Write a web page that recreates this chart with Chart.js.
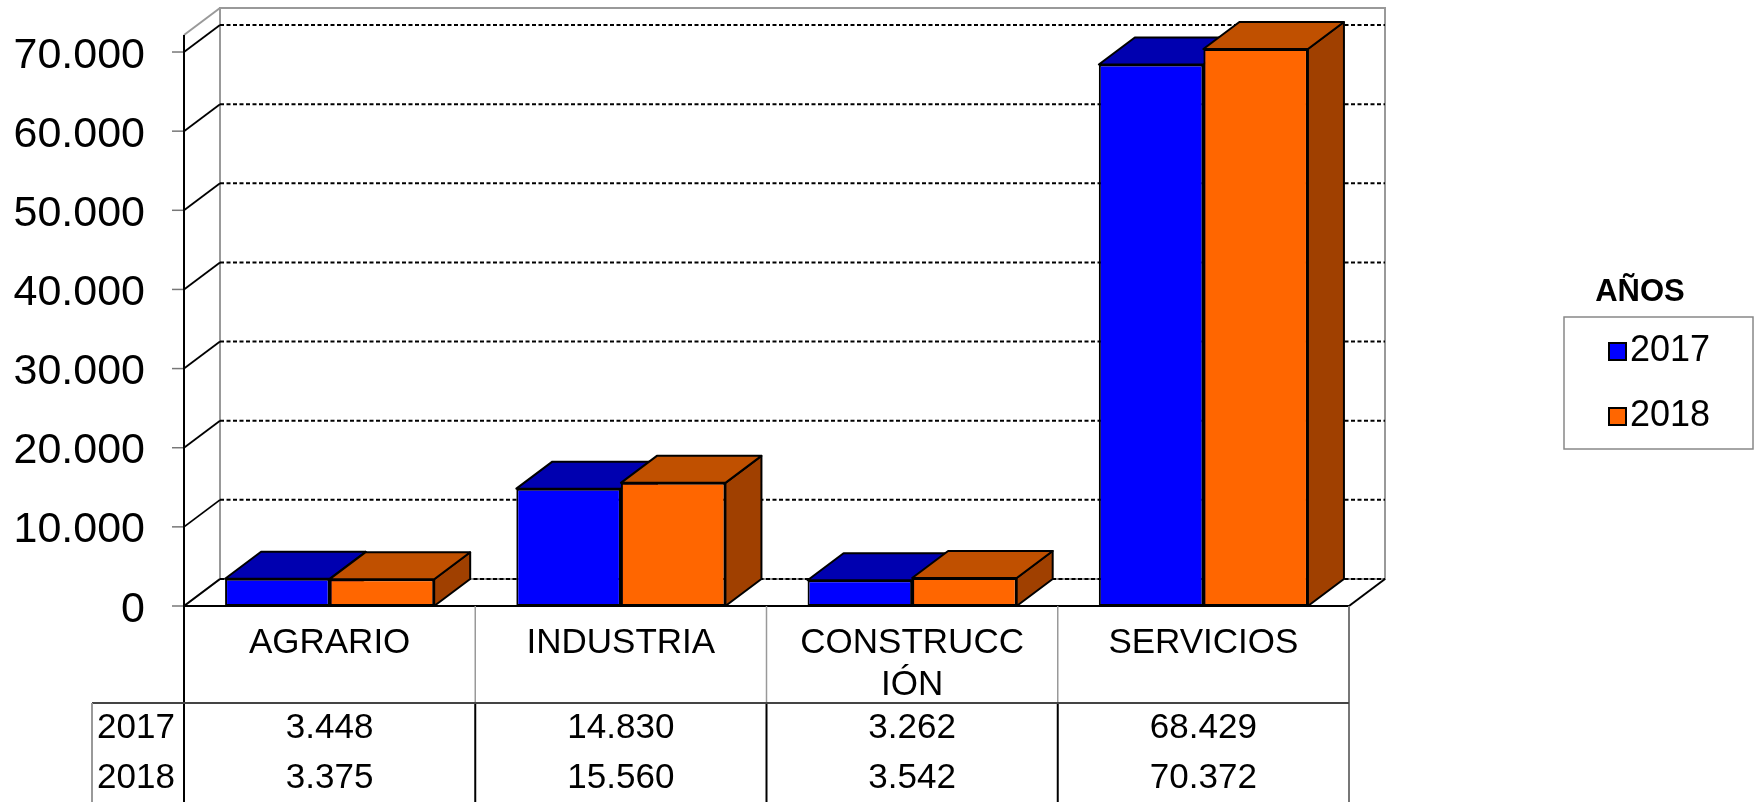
<!DOCTYPE html>
<html>
<head>
<meta charset="utf-8">
<script src="https://cdn.jsdelivr.net/npm/chart.js@4.4.0/dist/chart.umd.min.js"></script>
<style>
  html, body { margin: 0; padding: 0; background: #fff; }
  #wrap { width: 1755px; height: 802px; }
</style>
</head>
<body>
<div id="wrap"><canvas id="grafico" width="1755" height="802"></canvas></div>
<script>
// Datos del gráfico
const categorias = ['AGRARIO', 'INDUSTRIA', ['CONSTRUCC', 'IÓN'], 'SERVICIOS'];
const anios = ['2017', '2018'];
const valores2017 = [3448, 14830, 3262, 68429];
const valores2018 = [3375, 15560, 3542, 70372];
const ticksY = [0, 10000, 20000, 30000, 40000, 50000, 60000, 70000];
const tituloLeyenda = 'AÑOS';

const FUENTE = '"Liberation Sans", Arial, sans-serif';
const DX = 36, DY = -27; // profundidad del efecto 3D
const caras = [
    { frente: '#0000FF', arriba: '#0000B0', lado: '#000090' },
    { frente: '#FF6600', arriba: '#C05000', lado: '#A04000' }
];

// 3448 -> "3.448"
function formato(n) {
    return String(n).replace(/\B(?=(\d{3})+(?!\d))/g, '.');
}

function linea(ctx, x1, y1, x2, y2, color, ancho, dash) {
    ctx.save();
    ctx.strokeStyle = color;
    ctx.lineWidth = ancho;
    ctx.setLineDash(dash || []);
    ctx.beginPath();
    ctx.moveTo(x1, y1);
    ctx.lineTo(x2, y2);
    ctx.stroke();
    ctx.restore();
}

function poligono(ctx, pts, relleno) {
    ctx.beginPath();
    ctx.moveTo(pts[0][0], pts[0][1]);
    for (let i = 1; i < pts.length; i++) ctx.lineTo(pts[i][0], pts[i][1]);
    ctx.closePath();
    ctx.fillStyle = relleno;
    ctx.fill();
    ctx.strokeStyle = '#000';
    ctx.lineWidth = 2;
    ctx.lineJoin = 'round';
    ctx.stroke();
}

// Paredes, rejilla y caras superiores/laterales de las barras
const marco3d = {
    id: 'marco3d',
    beforeDatasetsDraw(chart) {
        const ctx = chart.ctx;
        const { left: L, right: R, top: T, bottom: B } = chart.chartArea;
        const y = chart.scales.y;

        // pared del fondo
        ctx.save();
        ctx.strokeStyle = '#999';
        ctx.lineWidth = 2;
        ctx.strokeRect(L + DX, T + DY, R - L, B - T);
        linea(ctx, L, T, L + DX, T + DY, '#999', 2);
        linea(ctx, L, B, L + DX, B + DY, '#777', 2);

        // rejilla
        ticksY.forEach(v => {
            const py = y.getPixelForValue(v);
            linea(ctx, L, py, L + DX, py + DY, '#000', 1.8);
            linea(ctx, L + DX, py + DY, R + DX, py + DY, '#000', 2, [4, 2.5]);
            linea(ctx, L - 12, py, L, py, '#777', 1.5);
        });

        // suelo
        linea(ctx, L, B, R, B, '#000', 2);
        linea(ctx, R, B, R + DX, B + DY, '#000', 2);
        linea(ctx, L, T, L, B, '#000', 2);

        // etiquetas eje Y
        ctx.fillStyle = '#000';
        ctx.font = '43px ' + FUENTE;
        ctx.textAlign = 'right';
        ctx.textBaseline = 'alphabetic';
        ticksY.forEach(v => {
            const py = y.getPixelForValue(v);
            ctx.fillText(formato(v), 145, py + 15.5);
        });

        // caras de las barras
        chart.data.datasets.forEach((ds, i) => {
            const meta = chart.getDatasetMeta(i);
            meta.data.forEach(bar => {
                const p = bar.getProps(['x', 'y', 'base', 'width'], true);
                const izq = p.x - p.width / 2, der = p.x + p.width / 2;
                poligono(ctx, [[der, p.y], [der + DX, p.y + DY], [der + DX, p.base + DY], [der, p.base]], caras[i].lado);
                poligono(ctx, [[izq, p.y], [der, p.y], [der + DX, p.y + DY], [izq + DX, p.y + DY]], caras[i].arriba);
            });
        });
        ctx.restore();
    },
    afterDraw(chart) {
        const ctx = chart.ctx;
        const { left: L, right: R, bottom: B } = chart.chartArea;
        const x = chart.scales.x;
        const colW = (R - L) / categorias.length;
        const H = chart.height;
        const filaY = 703;

        ctx.save();
        // lineas de la tabla
        for (let i = 0; i <= categorias.length; i++) {
            const px = L + i * colW;
            if (i === 0) {
                linea(ctx, px, B, px, H, '#000', 2);
            } else if (i === categorias.length) {
                linea(ctx, px, B, px, H, '#777', 2);
            } else {
                linea(ctx, px, B, px, filaY, '#999', 1.5);
                linea(ctx, px, filaY, px, H, '#000', 2);
            }
        }
        linea(ctx, 92, filaY, R, filaY, '#444', 2);
        linea(ctx, 92, filaY, 92, H, '#999', 2);

        ctx.fillStyle = '#000';
        ctx.font = '35px ' + FUENTE;
        ctx.textBaseline = 'alphabetic';
        ctx.textAlign = 'center';
        categorias.forEach((c, i) => {
            const cx = x.getPixelForValue(i);
            const lineas = Array.isArray(c) ? c : [c];
            lineas.forEach((t, k) => ctx.fillText(t, cx, 653 + k * 42));
        });
        const filas = [valores2017, valores2018];
        filas.forEach((vals, r) => {
            const by = 738 + r * 50;
            ctx.textAlign = 'left';
            ctx.fillText(anios[r], 97, by);
            ctx.textAlign = 'center';
            vals.forEach((v, i) => ctx.fillText(formato(v), x.getPixelForValue(i), by));
        });

        // leyenda
        ctx.font = 'bold 31px ' + FUENTE;
        ctx.textAlign = 'center';
        ctx.fillText(tituloLeyenda, 1640, 301);
        ctx.strokeStyle = '#888';
        ctx.lineWidth = 1.5;
        ctx.strokeRect(1564, 317, 189, 132);
        ctx.font = '36px ' + FUENTE;
        ctx.textAlign = 'left';
        chart.data.datasets.forEach((ds, i) => {
            const top = 343 + i * 65;
            ctx.fillStyle = ds.backgroundColor;
            ctx.fillRect(1609, top, 17, 17);
            ctx.strokeStyle = '#000';
            ctx.lineWidth = 2;
            ctx.strokeRect(1609, top, 17, 17);
            ctx.fillStyle = '#000';
            ctx.fillText(ds.label, 1630, top + 18);
        });
        ctx.restore();
    }
};

const ctx = document.getElementById('grafico').getContext('2d');
new Chart(ctx, {
    type: 'bar',
    data: {
        labels: categorias,
        datasets: [
            { label: anios[0], data: valores2017, backgroundColor: caras[0].frente },
            { label: anios[1], data: valores2018, backgroundColor: caras[1].frente }
        ]
    },
    options: {
        responsive: false,
        animation: false,
        devicePixelRatio: 1,
        layout: { padding: { left: 184, right: 406, top: 35, bottom: 196 } },
        datasets: {
            bar: {
                borderColor: '#000',
                borderWidth: 2,
                borderSkipped: false,
                categoryPercentage: 0.718,
                barPercentage: 1.0
            }
        },
        plugins: {
            legend: { display: false },
            tooltip: { enabled: false }
        },
        scales: {
            x: { display: false },
            y: { display: false, min: 0, max: 72150 }
        }
    },
    plugins: [marco3d]
});
</script>
</body>
</html>
